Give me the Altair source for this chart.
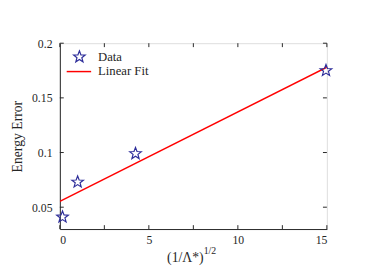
import math
import altair as alt
import pandas as pd

# ---- data ----
x_data = [0.15, 1.0, 4.25, 14.95]
y_data = [0.041, 0.073, 0.099, 0.175]
fit_x = [0, 15]
fit_y = [0.0553, 0.178]
x_ticks = [0, 5, 10, 15]
x_minor = [2.5, 7.5, 12.5]
y_ticks = [0.05, 0.1, 0.15, 0.2]
legend_labels = ["Data", "Linear Fit"]

W, H = 273, 190
FONT = "Liberation Serif"
BLUE = "#2e2e9a"
RED = "#ff0000"
TXT = "#262626"

# five-pointed star symbol path (unit box)
_p = []
for k in range(10):
    r = 1.0 if k % 2 == 0 else 0.42
    a = math.radians(-90 + 36 * k)
    _p.append(f"{r*math.cos(a):.3f},{r*math.sin(a):.3f}")
STAR = "M" + "L".join(_p) + "Z"

xs = alt.Scale(domain=[0, 15], nice=False, zero=False)
ys = alt.Scale(domain=[0.03, 0.2], nice=False, zero=False)

pts = pd.DataFrame({"x": x_data, "y": y_data})
fit = pd.DataFrame({"x": fit_x, "y": fit_y})
xt = pd.DataFrame({"x": x_ticks + x_minor})
yt = pd.DataFrame({"y": y_ticks})

xaxis = alt.Axis(orient="bottom", values=x_ticks, ticks=False, grid=False, labelFont=FONT,
                 labelFontSize=12, labelColor=TXT, labelPadding=6, domainColor="#262626",
                 title=None, format="~g")
yaxis = alt.Axis(orient="left", values=y_ticks, ticks=False, grid=False, labelFont=FONT,
                 labelFontSize=12, labelColor=TXT, labelPadding=8, domainColor="#262626",
                 title="Energy Error", format="~g",
                 titleFont=FONT, titleFontSize=14, titleFontWeight="normal", titleColor=TXT,
                 titlePadding=7)

X = alt.X("x:Q", scale=xs, axis=xaxis)
Y = alt.Y("y:Q", scale=ys, axis=yaxis)

fit_layer = alt.Chart(fit).mark_line(color=RED, strokeWidth=1.5, clip=True).encode(x=X, y=Y)
pt_layer = alt.Chart(pts).mark_point(shape=STAR, size=155, color=BLUE, filled=False,
                                     strokeWidth=1.2, opacity=1).encode(x=X, y=Y)

xtick_bot = alt.Chart(xt).mark_rule(color="#262626", strokeWidth=1).encode(
    x=X, y=alt.value(H), y2=alt.value(H - 4))
xtick_top = alt.Chart(xt).mark_rule(color="#262626", strokeWidth=1).encode(
    x=X, y=alt.value(0), y2=alt.value(4))
ytick_left = alt.Chart(yt).mark_rule(color="#262626", strokeWidth=1).encode(
    y=Y, x=alt.value(0), x2=alt.value(4))
ytick_right = alt.Chart(yt).mark_rule(color="#262626", strokeWidth=1).encode(
    y=Y, x=alt.value(W), x2=alt.value(W - 4))

# legend (manual)
leg_pt = alt.Chart(pd.DataFrame({"l": [legend_labels[0]]})).mark_point(
    shape=STAR, size=155, color=BLUE, filled=False, strokeWidth=1.2, opacity=1).encode(
    x=alt.value(20), y=alt.value(14))
leg_line = alt.Chart(pd.DataFrame({"l": [legend_labels[1]]})).mark_rule(
    color=RED, strokeWidth=1.5).encode(x=alt.value(7), x2=alt.value(32), y=alt.value(29))
leg_t1 = alt.Chart(pd.DataFrame({"l": [legend_labels[0]]})).mark_text(
    font=FONT, fontSize=13, color=TXT, align="left", baseline="middle").encode(
    x=alt.value(39), y=alt.value(14), text="l:N")
leg_t2 = alt.Chart(pd.DataFrame({"l": [legend_labels[1]]})).mark_text(
    font=FONT, fontSize=13, color=TXT, align="left", baseline="middle").encode(
    x=alt.value(39), y=alt.value(29), text="l:N")

# x-axis title with superscript
xt_main = alt.Chart(pd.DataFrame({"t": ["(1/Λ*)"]})).mark_text(
    font=FONT, fontSize=14, color=TXT, align="right", baseline="middle").encode(
    x=alt.value(147), y=alt.value(H + 30), text="t:N")
xt_sup = alt.Chart(pd.DataFrame({"t": ["1/2"]})).mark_text(
    font=FONT, fontSize=10, color=TXT, align="left", baseline="middle").encode(
    x=alt.value(147), y=alt.value(H + 23), text="t:N")

chart = alt.layer(
    fit_layer, pt_layer, xtick_bot, xtick_top, ytick_left, ytick_right,
    leg_pt, leg_line, leg_t1, leg_t2, xt_main, xt_sup,
).properties(
    width=W, height=H,
    autosize="none",
    padding={"left": 53, "top": 33, "right": 40, "bottom": 45},
).configure_view(stroke="#262626", strokeWidth=1).configure(background="white")

chart.save("out.html", embed_options={"renderer": "svg", "actions": False})
